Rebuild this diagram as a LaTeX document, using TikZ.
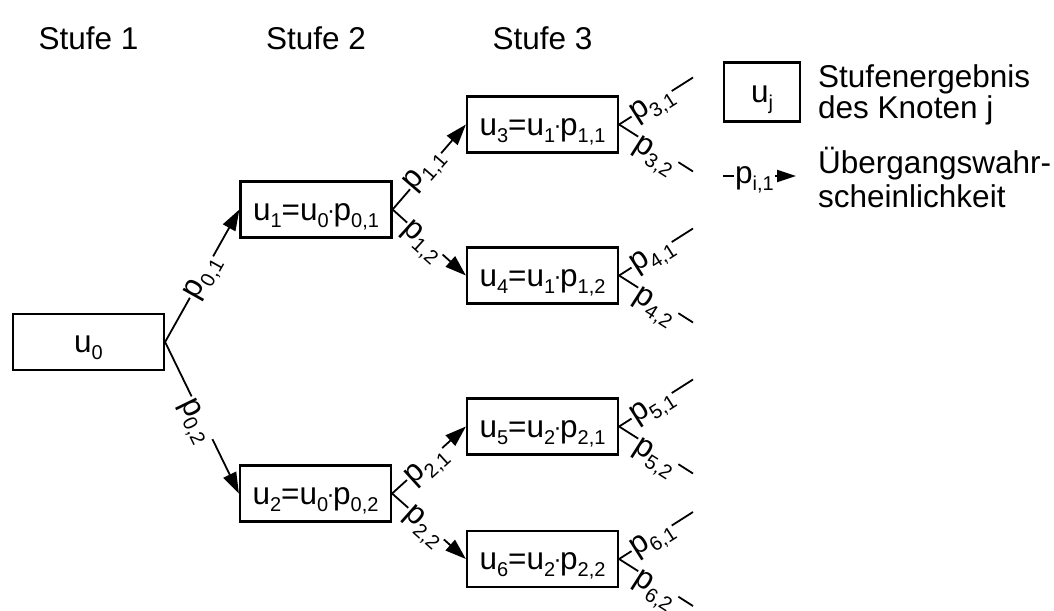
\documentclass[tikz,border=0pt]{standalone}
\usepackage{fontspec}
\setmainfont{Liberation Sans}
\usetikzlibrary{arrows.meta}

% lowered index and small product dot
\newcommand\lowsub[1]{\raisebox{-7pt}{\fontsize{20}{20}\selectfont #1}}
\newcommand\mdot{\raisebox{2pt}{\fontsize{24}{24}\selectfont\kern-1.5pt·\kern-1.5pt}}

\tikzset{
  big/.style={font=\fontsize{31.5}{31.5}\selectfont},
  stagelabel/.style={big, anchor=base, inner sep=0pt},
  legendtext/.style={big, anchor=base west, inner sep=0pt},
  resultbox/.style={draw, line width=2.2pt, minimum width=151pt, minimum height=56pt,
    inner sep=0pt, text height=22pt, text depth=1pt, big},
  link/.style={line width=1.8pt},
  arrowlink/.style={link, -{Triangle[length=21pt,width=14pt]}},
  prob/.style={sloped, fill=white, inner sep=1pt, text height=17pt, text depth=3pt, big},
}

\begin{document}
\begin{tikzpicture}[x=1pt, y=-1pt]
\useasboundingbox (0,0) rectangle (1054,610);

% stage headings
\node[stagelabel] (s1) at (88.5,49) {Stufe 1};
\node[stagelabel] (s2) at (316,49) {Stufe 2};
\node[stagelabel] (s3) at (542.5,49) {Stufe 3};

% result boxes
\node[resultbox] (u0) at (88.5,342) {u\lowsub{0}};
\node[resultbox] (u1) at (316,209.5) {u\lowsub{1}=u\lowsub{0}\mdot p\lowsub{0,1}};
\node[resultbox] (u2) at (315.5,493.5) {u\lowsub{2}=u\lowsub{0}\mdot p\lowsub{0,2}};
\node[resultbox] (u3) at (542.5,124.5) {u\lowsub{3}=u\lowsub{1}\mdot p\lowsub{1,1}};
\node[resultbox] (u4) at (542.5,275.5) {u\lowsub{4}=u\lowsub{1}\mdot p\lowsub{1,2}};
\node[resultbox] (u5) at (542.5,426.5) {u\lowsub{5}=u\lowsub{2}\mdot p\lowsub{2,1}};
\node[resultbox] (u6) at (542.5,559) {u\lowsub{6}=u\lowsub{2}\mdot p\lowsub{2,2}};

% transitions stage 1 -> 2
\draw[arrowlink] (u0.east) -- node[prob, pos=0.49] (p01) {p\lowsub{0,1}} (u1.west);
\draw[arrowlink] (u0.east) -- node[prob, pos=0.5, yshift=-6pt] (p02) {p\lowsub{0,2}} (u2.west);

% transitions stage 2 -> 3
\draw[arrowlink] (u1.east) -- node[prob, pos=0.45, yshift=3pt] (p11) {p\lowsub{1,1}} (u3.west);
\draw[arrowlink] (u1.east) -- node[prob, pos=0.44, yshift=-2pt] (p12) {p\lowsub{1,2}} (u4.west);
\draw[arrowlink] (u2.east) -- node[prob, pos=0.44, yshift=-2pt] (p21) {p\lowsub{2,1}} (u5.west);
\draw[arrowlink] (u2.east) -- node[prob, pos=0.46, yshift=-2pt] (p22) {p\lowsub{2,2}} (u6.west);

% open transitions leaving stage 3
\foreach \k/\cy in {3/124.5, 4/275.5, 5/426.5, 6/559}{
  \coordinate (e\k a) at (693,\cy-47);
  \coordinate (e\k b) at (693,\cy+47);
  \draw[link] (u\k.east) -- node[prob, pos=0.44] (p\k a) {p\lowsub{\k,1}} (e\k a);
  \draw[link] (u\k.east) -- node[prob, pos=0.53, yshift=-6pt] (p\k b) {p\lowsub{\k,2}} (e\k b);
}

% legend
\node[resultbox, minimum width=76pt, minimum height=59pt] (uj) at (762,92) {u\lowsub{j}};
\node[legendtext] (l1) at (818,87) {Stufenergebnis};
\node[legendtext] (l2) at (818,118) {des Knoten j};
\coordinate (ls) at (723,176);
\coordinate (le) at (796,176);
\draw[link, -{Triangle[length=19pt,width=12pt]}] (ls) -- node[prob, pos=0.43] (pi) {p\lowsub{i,1}} (le);
\node[legendtext] (l3) at (818,173) {Übergangswahr-};
\node[legendtext] (l4) at (818,207) {scheinlichkeit};
\end{tikzpicture}
\end{document}
